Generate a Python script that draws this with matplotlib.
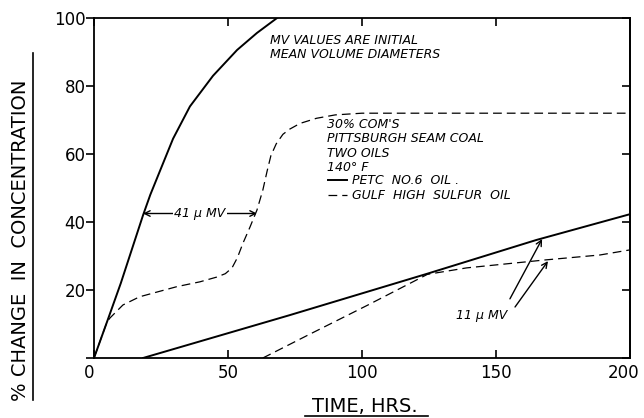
import matplotlib
matplotlib.use("Agg")
import matplotlib.pyplot as plt
import matplotlib.transforms as mtransforms
from matplotlib.lines import Line2D

# 41 micron MV, PETC No.6 oil (solid)
petc41_t = [0, 4.8, 10, 18.3, 21, 24.6, 29.5, 35.8, 44.4, 53.4, 60.8, 68.3]
petc41_y = [0, 10.5, 22, 42, 48, 55, 64.5, 74, 83, 90.6, 95.6, 100]

# 41 micron MV, Gulf high sulfur oil (dashed)
gulf41_t = [0, 4.8, 6, 10.8, 17, 23.5, 31, 39.5, 45.8, 49, 51.5, 53.5, 55.6, 58.2,
            60.8, 63, 64.6, 66, 68, 70.5, 73, 76.9, 83, 90, 100, 150, 200]
gulf41_y = [0, 10.5, 11.8, 15.6, 18, 19.4, 21, 22.4, 23.8, 24.8, 26.5, 29.5, 33.8, 38.5,
            43.5, 49.4, 55, 59.5, 63, 65.8, 67.3, 69, 70.5, 71.5, 72, 72, 72]

# 11 micron MV, PETC No.6 oil (solid)
petc11_t = [18.3, 73, 124.4, 165, 200]
petc11_y = [0, 12.6, 24.8, 34.7, 42.3]

# 11 micron MV, Gulf high sulfur oil (dashed)
gulf11_t = [63, 80, 102, 124.4, 139, 167.8, 188.8, 200]
gulf11_y = [0, 6.8, 15.5, 24.6, 26.5, 28.8, 30.3, 31.8]

xticks = [0, 50, 100, 150, 200]
yticks = [0, 20, 40, 60, 80, 100]

fig = plt.figure(figsize=(6.44, 4.18), dpi=100)
ax = fig.add_axes([94 / 644, 60 / 418, 536 / 644, 340 / 418])

solid_kw = dict(color="black", lw=1.4)
dash_kw = dict(color="black", lw=0.9, dashes=(7, 4))

l1, = ax.plot(petc41_t, petc41_y, **solid_kw)
l2, = ax.plot(gulf41_t, gulf41_y, **dash_kw)
ax.plot(petc11_t, petc11_y, **solid_kw)
ax.plot(gulf11_t, gulf11_y, **dash_kw)

ax.set_xlim(0, 200)
ax.set_ylim(0, 100)

# ticks: left outward, everything else inward
ax.set_xticks(xticks)
ax.set_yticks(yticks)
ax.set_yticklabels([""] + [str(v) for v in yticks[1:]])
ax.tick_params(axis="x", direction="in", top=True, length=6, width=1.2,
               labelsize=12, pad=4)
ax.tick_params(axis="y", direction="out", length=6, width=1.2,
               labelsize=12, pad=0)
xlabels = ax.get_xticklabels()
xlabels[0].set_ha("right")
# pull the 200 label in a little so it stays on the page
shift = mtransforms.ScaledTranslation(-6 / 100, 0, fig.dpi_scale_trans)
xlabels[-1].set_transform(xlabels[-1].get_transform() + shift)
right = ax.secondary_yaxis("right")
right.set_yticks(yticks)
right.tick_params(direction="in", length=6, width=1.2, labelright=False)
for s in list(ax.spines.values()) + list(right.spines.values()):
    s.set_linewidth(1.3)

txt = dict(fontsize=9, style="italic", color="black")

ax.text(65.7, 95.3, "MV VALUES ARE INITIAL\nMEAN VOLUME DIAMETERS",
        va="top", ha="left", linespacing=1.15, **txt)
ax.text(87, 70.5, "30% COM'S\nPITTSBURGH SEAM COAL\nTWO OILS\n140° F",
        va="top", ha="left", linespacing=1.12, **txt)
ax.legend([l1, l2], ["PETC  NO.6  OIL .", "GULF  HIGH  SULFUR  OIL"],
          loc="upper left", bbox_to_anchor=(0.437, 0.54), frameon=False,
          handlelength=1.5, handletextpad=0.4, labelspacing=0.12,
          borderpad=0, borderaxespad=0,
          prop=dict(size=9, style="italic"))

# 41 micron double arrow
ax.annotate("", xy=(18.3, 42.5), xytext=(60.8, 42.5),
            arrowprops=dict(arrowstyle="<->", lw=1, color="black",
                            shrinkA=0, shrinkB=0))
ax.text(39.5, 42.5, "41 μ MV", ha="center", va="center",
        bbox=dict(facecolor="white", edgecolor="none", pad=1), **txt)

# 11 micron arrows
ax.text(144.8, 12.4, "11 μ MV", ha="center", va="center", **txt)
ax.annotate("", xy=(167.2, 35), xytext=(155.2, 17.4),
            arrowprops=dict(arrowstyle="->", lw=1, color="black",
                            shrinkA=0, shrinkB=0))
ax.annotate("", xy=(169.4, 28.5), xytext=(157.1, 15),
            arrowprops=dict(arrowstyle="->", lw=1, color="black",
                            shrinkA=0, shrinkB=0))

# underlined axis titles
fig.text(21 / 644, 1 - 240 / 418, "% CHANGE  IN  CONCENTRATION", rotation=90,
         ha="center", va="center", fontsize=14)
fig.add_artist(Line2D([33 / 644, 33 / 644], [1 - 53 / 418, 1 - 400 / 418],
                      color="black", lw=1.2))
fig.text(365 / 644, 1 - 406 / 418, "TIME, HRS.", ha="center", va="center",
         fontsize=14)
fig.add_artist(Line2D([305 / 644, 428 / 644], [1 - 416 / 418, 1 - 416 / 418],
                      color="black", lw=1.2))

fig.savefig("out.png", dpi=100)
